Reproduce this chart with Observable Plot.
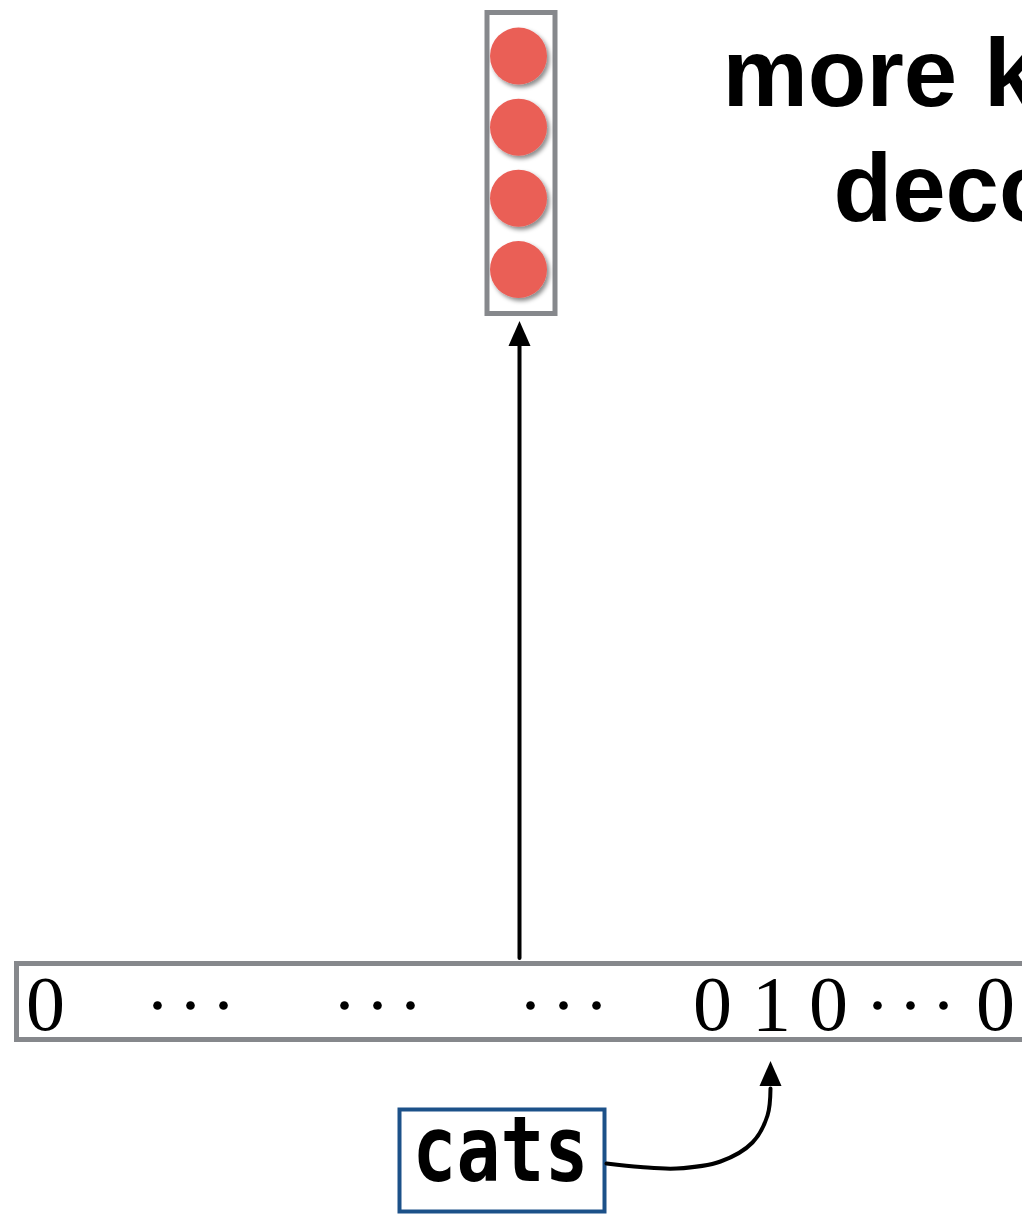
<!DOCTYPE html>
<html>
<head>
<meta charset="utf-8">
<script src="https://cdn.jsdelivr.net/npm/d3@7"></script>
<script src="https://cdn.jsdelivr.net/npm/@observablehq/plot@0.6"></script>
<style>
  html, body { margin: 0; padding: 0; background: #fff; }
  #chart svg { display: block; }
</style>
</head>
<body>
<div id="chart"></div>
<script>
// ---- data (diagram layout in page pixels) ----
const ballX = [518, 518, 518, 518];
const ballY = [55.5, 126.7, 197.7, 269];

const titleLines = ["more k", "deco"];
const titleX = [722, 833];
const titleBaseline = [105, 220];

const vectorTokens = ["0", "⋯", "⋯", "⋯", "0", "1", "0", "⋯", "0"];
const vectorX = [45, 190, 377, 563, 712, 771, 828, 910, 995];
const vectorBaseline = 1029;

const grayBoxes = [
  {name: "embedding", x1: 487, x2: 555, y1: 12.5, y2: 313.5},
  {name: "onehot", x1: 16.5, x2: 1030, y1: 963.5, y2: 1039.5}
];
const wordBox = [{name: "word", x1: 399.5, x2: 604.5, y1: 1109.5, y2: 1211.5}];

const wordLabel = "cats";
const wordX = 500;
const wordBaseline = 1180;

const upArrowX = [519, 519];
const upArrowY = [957.5, 340];
const upHead = {x: 519, y: 333};

const curveX = [606, 640, 676, 720, 752, 767, 770];
const curveY = [1163, 1166.5, 1168, 1161, 1142, 1115, 1088];
const curveHead = {x: 770, y: 1073};

// ---- build ----
const headSymbol = {
  draw(ctx) {
    const h = 25, w = 22;
    ctx.moveTo(0, -h / 2);
    ctx.lineTo(w / 2, h / 2);
    ctx.lineTo(-w / 2, h / 2);
    ctx.closePath();
  }
};

const balls = ballX.map((x, i) => ({x, y: ballY[i]}));
const titles = titleLines.map((t, i) => ({t, x: titleX[i], y: titleBaseline[i] - 0.32 * 96}));
const tokens = vectorTokens.map((t, i) => ({t, x: vectorX[i]}));
const digits = tokens.filter(d => d.t !== "⋯");
const ellipses = tokens.filter(d => d.t === "⋯");
const upLine = upArrowX.map((x, i) => ({x, y: upArrowY[i]}));
const curve = curveX.map((x, i) => ({x, y: curveY[i]}));

const svg = Plot.plot({
  width: 1022,
  height: 1215,
  margin: 0,
  x: {domain: [0, 1022], range: [0, 1022], axis: null},
  y: {domain: [0, 1215], range: [0, 1215], axis: null},
  marks: [
    Plot.rect(grayBoxes, {x1: "x1", x2: "x2", y1: "y1", y2: "y2", fill: "white", stroke: "#86888c", strokeWidth: 5}),
    Plot.rect(wordBox, {x1: "x1", x2: "x2", y1: "y1", y2: "y2", fill: "white", stroke: "#1c5189", strokeWidth: 4}),
    Plot.dot(balls, {x: "x", y: "y", r: 28.5, fill: "#ea5e57", stroke: "none"}),
    Plot.line(upLine, {x: "x", y: "y", stroke: "black", strokeWidth: 4}),
    Plot.dot([upHead], {x: "x", y: "y", r: 10, symbol: headSymbol, fill: "black", stroke: "none"}),
    Plot.line(curve, {x: "x", y: "y", curve: "catmull-rom", stroke: "black", strokeWidth: 4}),
    Plot.dot([curveHead], {x: "x", y: "y", r: 10, symbol: headSymbol, fill: "black", stroke: "none"}),
    Plot.text(titles, {x: "x", y: "y", text: "t", textAnchor: "start", fontSize: 96, fontWeight: "bold", fontFamily: "Liberation Sans, Arial, Helvetica, sans-serif", fill: "black"}),
    Plot.text(digits, {x: "x", y: vectorBaseline - 0.32 * 78, text: "t", fontSize: 78, fontFamily: "Liberation Serif, Times New Roman, serif", fill: "black"}),
    Plot.dot(ellipses, {x: "x", y: 1005, dx: -33, r: 4.3, fill: "black", stroke: "none"}),
    Plot.dot(ellipses, {x: "x", y: 1005, r: 4.3, fill: "black", stroke: "none"}),
    Plot.dot(ellipses, {x: "x", y: 1005, dx: 33, r: 4.3, fill: "black", stroke: "none"}),
    Plot.text([wordLabel], {x: wordX, y: wordBaseline - 1.25 * 0.32 * 73, text: d => d, fontSize: 73, fontWeight: "bold", fontFamily: "DejaVu Sans Mono, monospace", fill: "black"})
  ]
});

// drop shadow for the embedding balls
const sel = d3.select(svg);
const defs = sel.insert("defs", ":first-child");
const f = defs.append("filter").attr("id", "ballShadow").attr("x", "-30%").attr("y", "-30%").attr("width", "170%").attr("height", "170%");
f.append("feDropShadow").attr("dx", 2.5).attr("dy", 3).attr("stdDeviation", 2).attr("flood-color", "#000").attr("flood-opacity", 0.45);
sel.selectAll("g").filter(function () { return this.getAttribute("fill") === "#ea5e57"; }).attr("filter", "url(#ballShadow)");

// stretch the monospace word vertically
sel.selectAll("text").filter(function () { return this.textContent === wordLabel; })
  .each(function () {
    const t = d3.select(this);
    const tr = t.attr("transform") || "";
    t.attr("transform", tr + " scale(1,1.25)");
  });

document.getElementById("chart").appendChild(svg);
</script>
</body>
</html>
